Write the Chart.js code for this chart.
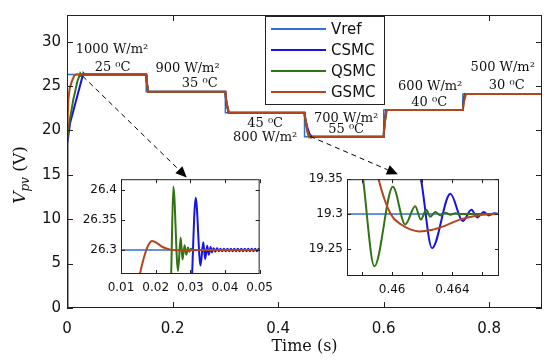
<!DOCTYPE html>
<html>
<head>
<meta charset="utf-8">
<script src="https://cdn.jsdelivr.net/npm/chart.js@4.4.1/dist/chart.umd.min.js"></script>
<style>
  body { margin: 0; background: #fff; }
  #wrap { position: relative; width: 550px; height: 360px; }
  canvas { position: absolute; }
</style>
</head>
<body>
<div id="wrap">
  <canvas id="mainChart" width="550" height="360" style="left:0;top:0"></canvas>
  <canvas id="zoom1" width="210" height="132" style="left:70px;top:168px"></canvas>
  <canvas id="zoom2" width="215" height="132" style="left:290px;top:168px"></canvas>
</div>
<script>
// series, legend order
const seriesNames = ['Vref', 'CSMC', 'QSMC', 'GSMC'];
const seriesColors = ['rgb(50,110,210)', 'rgb(20,20,230)', 'rgb(50,115,20)', 'rgb(180,70,30)'];

// tick labels
const mainXTicks = [0, 0.2, 0.4, 0.6, 0.8];
const mainYTicks = [0, 5, 10, 15, 20, 25, 30];
const zoom1XTicks = [0.01, 0.02, 0.03, 0.04, 0.05];
const zoom1YTicks = [26.3, 26.35, 26.4];
const zoom2XTicks = [0.458, 0.46, 0.462, 0.464, 0.466];
const zoom2XLabels = ['', '0.46', '', '0.464', ''];
const zoom2YTicks = [19.25, 19.3, 19.35];

// reference voltage
const vrefT = [0, 0.15, 0.1501, 0.3, 0.3001, 0.45, 0.4501, 0.6, 0.6001, 0.75, 0.7501, 0.9];
const vrefV = [26.3, 26.3, 24.35, 24.35, 22.0, 22.0, 19.3, 19.3, 22.3, 22.3, 24.1, 24.1];

// CSMC response
const csmcT = [0, 0.0005, 0.0057, 0.029, 0.03052, 0.03156, 0.03294, 0.03372, 0.03429, 0.03486, 0.03532, 0.03584, 0.03623,
  0.0367, 0.0372, 0.0377, 0.0382, 0.0387, 0.0392, 0.0397, 0.0402, 0.0407, 0.0412, 0.0417, 0.0422, 0.0427, 0.0432,
  0.0437, 0.0442, 0.0447, 0.0452, 0.0457, 0.0462, 0.0467, 0.0472, 0.0477, 0.0482, 0.0487, 0.0492, 0.0497, 0.0502,
  0.15, 0.1503, 0.1538, 0.3, 0.302, 0.3065, 0.45, 0.4505, 0.456, 0.4605, 0.46191, 0.46265, 0.46387, 0.46469,
  0.46527, 0.46565, 0.46609, 0.4664, 0.4668, 0.4672, 0.6, 0.6003, 0.6045, 0.75, 0.7503, 0.754, 0.9];
const csmcV = [0, 18.5, 20.8, 26.0, 26.26, 26.387, 26.274, 26.313, 26.285, 26.307, 26.292, 26.305, 26.296,
  26.303, 26.297, 26.303, 26.298, 26.302, 26.298, 26.302, 26.298, 26.302, 26.298, 26.302, 26.298, 26.302, 26.298,
  26.302, 26.298, 26.302, 26.298, 26.302, 26.298, 26.302, 26.298, 26.302, 26.298, 26.302, 26.298, 26.302, 26.3,
  26.3, 25.8, 24.35, 24.35, 23.0, 22.0, 22.0, 21.6, 20.2, 19.45, 19.35, 19.251, 19.329, 19.29,
  19.306, 19.295, 19.303, 19.298, 19.301, 19.3, 19.3, 19.8, 22.3, 22.3, 23.0, 24.1, 24.1];

// QSMC response
const qsmcT = [0, 0.0005, 0.0025, 0.012, 0.02, 0.0235, 0.02447, 0.0251, 0.02644, 0.02722, 0.02774, 0.02836, 0.02883,
  0.02935, 0.02974, 0.0302, 0.0307, 0.0315, 0.15, 0.1502, 0.1535, 0.3, 0.3015, 0.306, 0.45, 0.4525, 0.456,
  0.45807, 0.45882, 0.46005, 0.46087, 0.46153, 0.46191, 0.46227, 0.46253, 0.46287, 0.4632, 0.46353, 0.46387,
  0.4642, 0.4646, 0.6, 0.6015, 0.605, 0.75, 0.7515, 0.755, 0.9];
const qsmcV = [0, 19.0, 20.2, 23.5, 25.6, 26.15, 26.26, 26.406, 26.265, 26.321, 26.284, 26.308, 26.292,
  26.304, 26.297, 26.302, 26.299, 26.3, 26.3, 26.0, 24.35, 24.35, 23.5, 22.0, 22.0, 20.8, 19.7,
  19.35, 19.225, 19.339, 19.285, 19.311, 19.292, 19.306, 19.296, 19.303, 19.298, 19.302, 19.299,
  19.301, 19.3, 19.3, 20.8, 22.3, 22.3, 23.2, 24.1, 24.1];

// GSMC response
const gsmcT = [0, 0.0004, 0.0025, 0.005, 0.009, 0.014, 0.01545, 0.0165, 0.0178, 0.019, 0.0205, 0.022, 0.024, 0.026, 0.03,
  0.15, 0.1515, 0.154, 0.3, 0.302, 0.307, 0.45, 0.453, 0.4565, 0.4582, 0.4591, 0.4599, 0.4606, 0.4612, 0.4618,
  0.4626, 0.4635, 0.4645, 0.4655, 0.4665, 0.468, 0.6, 0.602, 0.606, 0.75, 0.752, 0.756, 0.9];
const gsmcV = [0, 19.5, 23.5, 24.7, 25.5, 26.215, 26.26, 26.285, 26.307, 26.315, 26.311, 26.305, 26.301, 26.2995, 26.3,
  26.3, 25.3, 24.35, 24.35, 23.2, 22.0, 22.0, 20.8, 19.75, 19.45, 19.35, 19.3, 19.285, 19.278, 19.275,
  19.277, 19.283, 19.292, 19.297, 19.2995, 19.3, 19.3, 20.8, 22.3, 22.3, 23.2, 24.1, 24.1];

// operating condition labels
const noteTexts = ['1000 W/m²', '25 ⁰C', '900 W/m²', '35 ⁰C', '45 ⁰C', '800 W/m²',
  '700 W/m²', '55 ⁰C', '600 W/m²', '40 ⁰C', '500 W/m²', '30 ⁰C'];
const notePos = [[0.0853, 28.67], [0.0863, 26.72], [0.2284, 26.61], [0.2514, 24.85], [0.3754, 20.33], [0.3754, 18.78],
  [0.5289, 20.96], [0.5289, 19.67], [0.6882, 24.52], [0.6863, 22.79], [0.8256, 26.64], [0.8332, 24.63]];
// zoom arrows: from, to (data units of main axes)
const arrows = [[0.03, 26.1, 0.2269, 14.71], [0.4607, 19.33, 0.6269, 15.07]];

const pts = (t, v) => t.map((x, i) => ({ x, y: v[i] }));
const seriesData = { Vref: [vrefT, vrefV], CSMC: [csmcT, csmcV], QSMC: [qsmcT, qsmcV], GSMC: [gsmcT, gsmcV] };

function makeDatasets(width, smooth) {
  // last legend entry drawn on top
  return seriesNames.slice().reverse().map(name => {
    const c = seriesColors[seriesNames.indexOf(name)];
    return {
      label: name,
      data: pts(seriesData[name][0], seriesData[name][1]),
      borderColor: c,
      backgroundColor: c,
      borderWidth: name === 'Vref' ? width - 0.5 : width,
      pointRadius: 0,
      tension: 0,
      cubicInterpolationMode: smooth ? 'monotone' : 'default',
      clip: smooth ? 0 : undefined
    };
  });
}

function framePlugin(tickLen) {
  return {
    id: 'frame',
    beforeDraw(chart) {
      const a = chart.chartArea, c = chart.ctx;
      c.save();
      c.fillStyle = '#fff';
      c.fillRect(a.left, a.top, a.right - a.left, a.bottom - a.top);
      c.restore();
    },
    afterDraw(chart) {
      const { ctx, chartArea: a, scales: { x, y } } = chart;
      ctx.save();
      ctx.strokeStyle = '#222';
      ctx.lineWidth = 1;
      ctx.strokeRect(a.left + 0.5, a.top + 0.5, a.right - a.left - 1, a.bottom - a.top - 1);
      ctx.beginPath();
      x.ticks.forEach(t => {
        const px = Math.round(x.getPixelForValue(t.value)) + 0.5;
        ctx.moveTo(px, a.bottom); ctx.lineTo(px, a.bottom - tickLen);
        ctx.moveTo(px, a.top); ctx.lineTo(px, a.top + tickLen);
      });
      y.ticks.forEach(t => {
        const py = Math.round(y.getPixelForValue(t.value)) + 0.5;
        ctx.moveTo(a.left, py); ctx.lineTo(a.left + tickLen, py);
        ctx.moveTo(a.right, py); ctx.lineTo(a.right - tickLen, py);
      });
      ctx.stroke();
      ctx.restore();
    }
  };
}

const extrasPlugin = {
  id: 'extras',
  afterDraw(chart) {
    const { ctx, scales: { x, y } } = chart;
    ctx.save();

    // dashed zoom arrows
    arrows.forEach(([t0, v0, t1, v1]) => {
      const x0 = x.getPixelForValue(t0), y0 = y.getPixelForValue(v0);
      const x1 = x.getPixelForValue(t1), y1 = y.getPixelForValue(v1);
      const ang = Math.atan2(y1 - y0, x1 - x0);
      const bx = x1 - 11 * Math.cos(ang), by = y1 - 11 * Math.sin(ang);
      ctx.strokeStyle = '#000';
      ctx.lineWidth = 1;
      ctx.setLineDash([5, 4]);
      ctx.beginPath(); ctx.moveTo(x0, y0); ctx.lineTo(bx, by); ctx.stroke();
      ctx.setLineDash([]);
      ctx.fillStyle = '#000';
      ctx.beginPath();
      ctx.moveTo(x1, y1);
      ctx.lineTo(bx + 5 * Math.sin(ang), by - 5 * Math.cos(ang));
      ctx.lineTo(bx - 5 * Math.sin(ang), by + 5 * Math.cos(ang));
      ctx.closePath(); ctx.fill();
    });

    // condition notes
    ctx.fillStyle = '#111';
    ctx.font = '13px "DejaVu Serif"';
    ctx.textAlign = 'center';
    ctx.textBaseline = 'alphabetic';
    noteTexts.forEach((txt, i) => {
      ctx.fillText(txt, x.getPixelForValue(notePos[i][0]), y.getPixelForValue(notePos[i][1]));
    });

    // legend
    ctx.fillStyle = '#fff';
    ctx.fillRect(265, 16, 119, 88);
    ctx.strokeStyle = '#222';
    ctx.lineWidth = 1;
    ctx.strokeRect(265.5, 16.5, 119, 88);
    ctx.font = '15px "DejaVu Sans"';
    ctx.textAlign = 'left';
    ctx.textBaseline = 'middle';
    seriesNames.forEach((name, i) => {
      const ly = 29 + i * 21;
      ctx.strokeStyle = seriesColors[i];
      ctx.lineWidth = 2;
      ctx.beginPath(); ctx.moveTo(271, ly); ctx.lineTo(326, ly); ctx.stroke();
      ctx.fillStyle = '#111';
      ctx.fillText(name, 331, ly + 1);
    });

    // y axis title: V_pv (V)
    ctx.translate(25, 175);
    ctx.rotate(-Math.PI / 2);
    ctx.textBaseline = 'alphabetic';
    ctx.fillStyle = '#111';
    const f1 = 'italic 17px "DejaVu Serif"', f2 = 'italic 12px "DejaVu Serif"', f3 = '17px "DejaVu Serif"';
    ctx.font = f1; const w1 = ctx.measureText('V').width;
    ctx.font = f2; const w2 = ctx.measureText('pv').width;
    ctx.font = f3; const w3 = ctx.measureText(' (V)').width;
    let px = -(w1 + w2 + w3) / 2;
    ctx.font = f1; ctx.fillText('V', px, 0); px += w1;
    ctx.font = f2; ctx.fillText('pv', px, 4); px += w2;
    ctx.font = f3; ctx.fillText(' (V)', px, 0);
    ctx.restore();
  }
};

function axis(min, max, ticks, labels, fontSize, pad, fit, title) {
  return {
    type: 'linear',
    min, max,
    afterBuildTicks: s => { s.ticks = ticks.map(v => ({ value: v })); },
    afterFit: fit,
    ticks: {
      autoSkip: false, maxRotation: 0, padding: pad, color: '#111',
      font: { family: 'DejaVu Sans', size: fontSize },
      callback: (v, i) => labels ? labels[i] : String(v)
    },
    grid: { display: false, drawTicks: false },
    border: { display: false },
    title: title || { display: false }
  };
}

Chart.defaults.animation = false;

new Chart(document.getElementById('mainChart'), {
  type: 'line',
  data: { datasets: makeDatasets(2, false) },
  options: {
    responsive: false,
    layout: { padding: { top: 9, right: 8, left: 0, bottom: 0 } },
    plugins: { legend: { display: false }, tooltip: { enabled: false } },
    scales: {
      x: axis(0, 0.9, mainXTicks, null, 15, 12, s => { s.height = 52; }, {
        display: true, text: 'Time (s)', color: '#111',
        font: { family: 'DejaVu Serif', size: 16 }, padding: { top: 0, bottom: 4 }
      }),
      y: axis(0, 33, mainYTicks, null, 15, 6, s => { s.width = 67; })
    }
  },
  plugins: [framePlugin(6), extrasPlugin]
});

new Chart(document.getElementById('zoom1'), {
  type: 'line',
  data: { datasets: makeDatasets(2, true) },
  options: {
    responsive: false,
    layout: { padding: { top: 8, right: 5, left: 0, bottom: 0 } },
    plugins: { legend: { display: false }, tooltip: { enabled: false } },
    scales: {
      x: axis(0.01, 0.05, zoom1XTicks, null, 12, 7, s => { s.height = 26; }),
      y: axis(26.26, 26.418, zoom1YTicks, null, 12, 4, s => { s.width = 51; })
    }
  },
  plugins: [framePlugin(4)]
});

new Chart(document.getElementById('zoom2'), {
  type: 'line',
  data: { datasets: makeDatasets(2, true) },
  options: {
    responsive: false,
    layout: { padding: { top: 8, right: 6, left: 0, bottom: 0 } },
    plugins: { legend: { display: false }, tooltip: { enabled: false } },
    scales: {
      x: axis(0.457, 0.4671, zoom2XTicks, zoom2XLabels, 12, 7, s => { s.height = 24; }),
      y: axis(19.211, 19.35, zoom2YTicks, null, 12, 4, s => { s.width = 57; })
    }
  },
  plugins: [framePlugin(4)]
});
</script>
</body>
</html>
